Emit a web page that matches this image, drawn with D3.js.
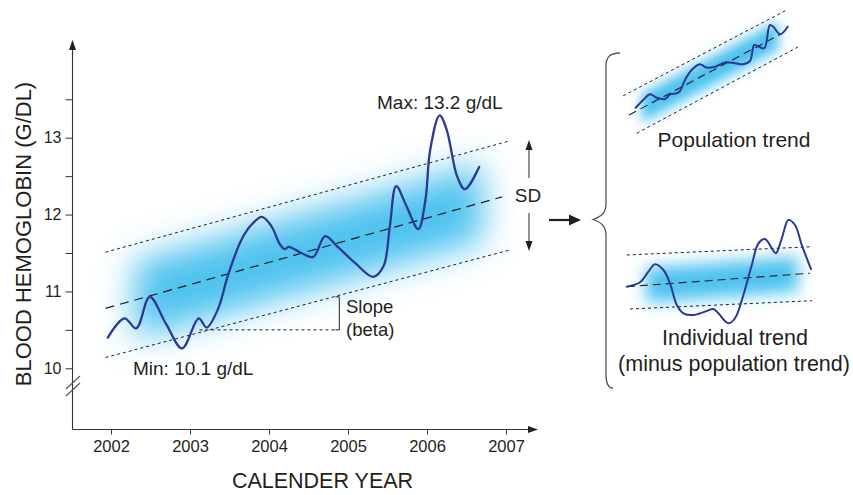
<!DOCTYPE html>
<html>
<head>
<meta charset="utf-8">
<script src="https://cdn.jsdelivr.net/npm/d3@7"></script>
<style>
body { margin: 0; background: #fff; }
svg text { font-family: "Liberation Sans", Arial, Helvetica, sans-serif; fill: #231f20; }
</style>
</head>
<body>
<div id="chart"></div>
<script>
// main series: blood hemoglobin (g/dL) by calendar year
var years = [2001.96, 2002.17, 2002.32, 2002.49, 2002.70, 2002.90, 2003.11, 2003.21, 2003.35, 2003.49,
    2003.65, 2003.78, 2003.91, 2004.03, 2004.14, 2004.20, 2004.25, 2004.41, 2004.56, 2004.71, 2004.86,
    2005.09, 2005.32, 2005.45, 2005.53, 2005.61, 2005.74, 2005.89, 2005.98, 2006.04, 2006.16, 2006.25,
    2006.38, 2006.48, 2006.66];
var hgb = [10.40, 10.65, 10.52, 10.93, 10.57, 10.26, 10.65, 10.53, 10.76, 11.24,
    11.67, 11.87, 11.97, 11.85, 11.61, 11.55, 11.58, 11.50, 11.45, 11.72, 11.59,
    11.37, 11.19, 11.33, 11.85, 12.37, 12.11, 11.81, 12.19, 12.84, 13.29, 13.10,
    12.50, 12.33, 12.62];

// trend lines [x0, v0, x1, v1]
var upperLine = [2001.93, 11.51, 2007.05, 12.96];
var centerLine = [2001.93, 10.78, 2006.95, 12.23];
var lowerLine = [2001.93, 10.14, 2007.05, 11.54];

var xTicks = [2002, 2003, 2004, 2005, 2006, 2007];
var yTicks = [10, 10.5, 11, 11.5, 12, 12.5, 13, 13.5];

// small panel: population trend (relative units)
var popX = [0.87, 1.29, 1.67, 2.04, 2.5, 2.78, 3.15, 3.33, 3.61, 3.98, 4.44, 4.82, 5.28, 5.87,
    6.39, 6.85, 7.22, 7.46, 7.72, 8.02, 8.33, 8.52, 8.89, 9.32];
var popY = [2.18, 2.8, 3.26, 2.98, 2.88, 3.26, 3.34, 3.52, 4.4, 5.2, 5.66, 5.38, 5.46, 5.82,
    5.74, 5.66, 5.92, 7.2, 7.06, 6.94, 8.8, 8.66, 8.06, 8.66];
var popUpper = [0.18, 3.14, 9.26, 10.0];
var popCenter = [0.5, 1.6, 8.89, 8.04];
var popLower = [0.93, 0.14, 9.91, 7.06];

// small panel: individual trend minus population trend
var indX = [0.34, 1.0, 1.42, 1.75, 2.17, 2.5, 2.84, 3.17, 3.67, 4.25, 4.67, 4.92, 5.42, 5.75,
    6.17, 6.59, 6.92, 7.25, 7.59, 7.79, 8.09, 8.42, 8.75, 9.09, 9.55];
var indY = [3.61, 3.98, 4.86, 5.48, 5.0, 3.89, 2.08, 1.39, 1.25, 1.53, 1.75, 1.39, 0.56, 0.98,
    2.92, 5.42, 7.22, 7.58, 6.81, 6.39, 7.64, 9.17, 8.75, 7.08, 5.08];
var indUpper = [0.34, 6.25, 9.59, 6.94];
var indCenter = [0.34, 3.61, 9.5, 4.73];
var indLower = [0.5, 1.75, 9.59, 2.44];

var curveColor = "#2b3990";
var bandColor = "#45bfee";

var svg = d3.select("#chart")
    .append("svg")
    .attr("width", 853)
    .attr("height", 495);

var defs = svg.append("defs");
function addBlur(id, sd) {
    defs.append("filter")
        .attr("id", id)
        .attr("x", "-50%").attr("y", "-100%")
        .attr("width", "200%").attr("height", "300%")
        .append("feGaussianBlur")
        .attr("stdDeviation", sd);
}
addBlur("blurMain", 17);
addBlur("blurPop", 6);
addBlur("blurInd", 8);

// scales
var x = d3.scaleLinear().domain([2002, 2007]).range([111, 506]);
var y = d3.scaleLinear().domain([10, 13]).range([368.3, 137.7]);

var popXs = d3.scaleLinear().domain([0, 10]).range([620, 800]);
var popYs = d3.scaleLinear().domain([0, 10]).range([135, 10]);
var indXs = d3.scaleLinear().domain([0, 10]).range([620, 820]);
var indYs = d3.scaleLinear().domain([0, 10]).range([330, 210]);

// value of a trend line at t
function at(seg, t) {
    return seg[1] + (seg[3] - seg[1]) * (t - seg[0]) / (seg[2] - seg[0]);
}

// blurred band around a centre line
function drawBand(g, seg, xs, ys, t0, t1, h, filterId, op) {
    var pts = [[t0, at(seg, t0) + h], [t1, at(seg, t1) + h], [t1, at(seg, t1) - h], [t0, at(seg, t0) - h]];
    g.append("polygon")
        .attr("points", pts.map(p => xs(p[0]) + "," + ys(p[1])).join(" "))
        .attr("fill", bandColor)
        .attr("fill-opacity", op)
        .attr("filter", "url(#" + filterId + ")");
}

function drawTrend(g, seg, xs, ys, dash, w) {
    g.append("line")
        .attr("x1", xs(seg[0])).attr("y1", ys(seg[1]))
        .attr("x2", xs(seg[2])).attr("y2", ys(seg[3]))
        .attr("stroke", "#231f20")
        .attr("stroke-width", w)
        .attr("stroke-dasharray", dash);
}

function drawCurve(g, xs, ys, xv, yv, w) {
    var line = d3.line()
        .x(d => xs(d[0]))
        .y(d => ys(d[1]))
        .curve(d3.curveCatmullRom.alpha(0.5));
    g.append("path")
        .attr("d", line(xv.map((v, i) => [v, yv[i]])))
        .attr("fill", "none")
        .attr("stroke", curveColor)
        .attr("stroke-width", w)
        .attr("stroke-linecap", "round");
}

// ---- main chart ----
var main = svg.append("g");
drawBand(main, centerLine, x, y, 2002.3, 2006.7, 0.5, "blurMain", 0.95);
drawTrend(main, upperLine, x, y, "3,3", 1);
drawTrend(main, lowerLine, x, y, "3,3", 1);
drawTrend(main, centerLine, x, y, "9,6", 1.2);

// slope annotation
main.append("line")
    .attr("x1", x(2003.12)).attr("y1", y(10.5))
    .attr("x2", x(2004.84)).attr("y2", y(10.5))
    .attr("stroke", "#231f20").attr("stroke-dasharray", "3,3");
main.append("path")
    .attr("d", "M" + x(2004.84) + "," + y(10.93) + "H" + x(2004.89) + "V" + y(10.5) + "H" + x(2004.84))
    .attr("fill", "none").attr("stroke", "#231f20").attr("stroke-width", 1);
main.append("text").attr("x", 346).attr("y", 313).style("font-size", "18.5px").text("Slope");
main.append("text").attr("x", 346).attr("y", 336).style("font-size", "18.5px").text("(beta)");

drawCurve(main, x, y, years, hgb, 2.3);

main.append("text").attr("x", 377).attr("y", 109).style("font-size", "19px").text("Max: 13.2 g/dL");
main.append("text").attr("x", 133).attr("y", 375).style("font-size", "19px").text("Min: 10.1 g/dL");

// axes
var axisColor = "#333";
var yAxis = d3.axisLeft(y)
    .tickValues(yTicks)
    .tickSize(7)
    .tickPadding(4)
    .tickFormat(d => d % 1 === 0 ? d : "");
var yAxisG = svg.append("g")
    .attr("transform", "translate(72.5,0)")
    .call(yAxis);
yAxisG.select(".domain").remove();
yAxisG.selectAll("line").attr("stroke", axisColor);
yAxisG.selectAll("text").style("font-size", "16px").style("font-family", null).attr("fill", null);

var xAxis = d3.axisBottom(x)
    .tickValues(xTicks)
    .tickSize(5)
    .tickPadding(6)
    .tickFormat(d3.format("d"));
var xAxisG = svg.append("g")
    .attr("transform", "translate(0,429.5)")
    .call(xAxis);
xAxisG.select(".domain").remove();
xAxisG.selectAll("line").attr("stroke", axisColor);
xAxisG.selectAll("text").style("font-size", "16.5px").style("font-family", null).attr("fill", null);

svg.append("path")
    .attr("d", "M72.5,429.5V48M72.5,429.5H530")
    .attr("fill", "none").attr("stroke", axisColor).attr("stroke-width", 1.1);
svg.append("path").attr("d", "M72.5,40L69,50L76,50Z").attr("fill", "#231f20");
svg.append("path").attr("d", "M538,429.5L528,426L528,433Z").attr("fill", "#231f20");

// axis break
svg.append("path")
    .attr("d", "M66,389L80,376M66,396L80,383")
    .attr("stroke", "#555").attr("stroke-width", 1.1);

svg.append("text")
    .attr("transform", "translate(31,234) rotate(-90)")
    .attr("text-anchor", "middle")
    .style("font-size", "22px")
    .text("BLOOD HEMOGLOBIN (G/DL)");
svg.append("text")
    .attr("x", 322.5).attr("y", 488)
    .attr("text-anchor", "middle")
    .style("font-size", "21.5px")
    .text("CALENDER YEAR");

// SD arrows
var sd = svg.append("g");
sd.append("path").attr("d", "M529,148V178M529,213V243").attr("stroke", "#777").attr("stroke-width", 1.6);
sd.append("path").attr("d", "M529,140L525.5,150L532.5,150Z").attr("fill", "#231f20");
sd.append("path").attr("d", "M529,251L525.5,241L532.5,241Z").attr("fill", "#231f20");
sd.append("text").attr("x", 528).attr("y", 202).attr("text-anchor", "middle").style("font-size", "19px").text("SD");

// right arrow
svg.append("path").attr("d", "M549,220H572").attr("stroke", "#231f20").attr("stroke-width", 2.2);
svg.append("path").attr("d", "M581,220L569,214.5L569,225.5Z").attr("fill", "#231f20");

// brace
svg.append("path")
    .attr("d", "M620,53C611,53 606,56 606,66V204C606,214 600,217 593,219.5C600,222 606,225 606,235V375C606,385 609,388 613,388")
    .attr("fill", "none").attr("stroke", "#555").attr("stroke-width", 1.3);

// ---- population trend panel ----
var pop = svg.append("g");
drawBand(pop, popCenter, popXs, popYs, 1.2, 8.8, 1.15, "blurPop", 0.95);
drawTrend(pop, popUpper, popXs, popYs, "3,3", 1);
drawTrend(pop, popLower, popXs, popYs, "3,3", 1);
drawTrend(pop, popCenter, popXs, popYs, "8,5", 1.1);
drawCurve(pop, popXs, popYs, popX, popY, 2);
pop.append("text").attr("x", 734).attr("y", 147).attr("text-anchor", "middle")
    .style("font-size", "21px").text("Population trend");

// ---- individual trend panel ----
var ind = svg.append("g");
drawBand(ind, indCenter, indXs, indYs, 1.3, 8.9, 1.45, "blurInd", 0.95);
drawTrend(ind, indUpper, indXs, indYs, "3,3", 1);
drawTrend(ind, indLower, indXs, indYs, "3,3", 1);
drawTrend(ind, indCenter, indXs, indYs, "8,5", 1.1);
drawCurve(ind, indXs, indYs, indX, indY, 2);
ind.append("text").attr("x", 735).attr("y", 345).attr("text-anchor", "middle")
    .style("font-size", "21.5px").text("Individual trend");
ind.append("text").attr("x", 734).attr("y", 371).attr("text-anchor", "middle")
    .style("font-size", "21.5px").text("(minus population trend)");
</script>
</body>
</html>
